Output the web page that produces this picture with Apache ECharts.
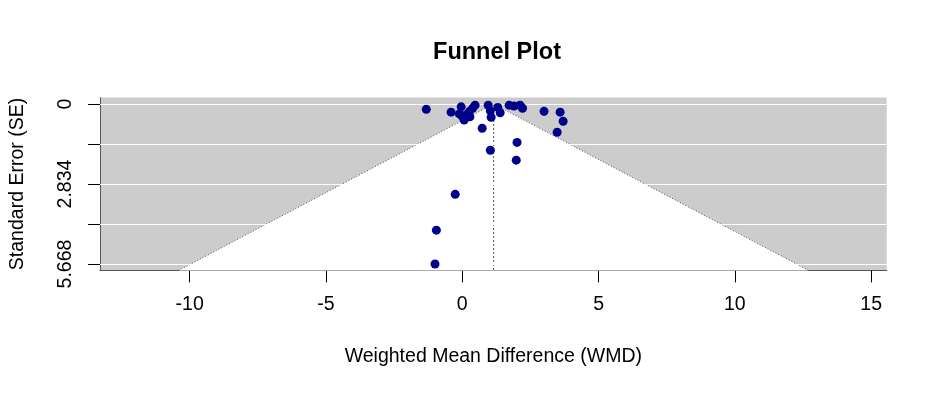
<!DOCTYPE html>
<html>
<head>
<meta charset="utf-8">
<script src="https://cdn.jsdelivr.net/npm/echarts@6/dist/echarts.min.js"></script>
<style>
html,body{margin:0;padding:0;background:#fff;}
#chart{width:937px;height:393px;}
</style>
</head>
<body>
<div id="chart"></div>
<script>
const xTicks = [-10, -5, 0, 5, 10, 15];
const seTicks = [0, 1.417, 2.834, 4.251, 5.668];
const seLabels = [0, 2.834, 5.668];
const estimate = 1.15;
const wmd = [-1.32, -0.41, -0.04, 0.47, 0.38, 0.26, 0.14, 0.01, 0.07, -0.11, 0.28,
  0.95, 1.03, 1.06, 1.30, 1.39, 1.72, 1.90, 2.12, 2.21, 3.00, 3.59, 3.70, 3.48,
  0.73, 2.01, 1.03, 1.98, -0.26, -0.95, -1.00];
const se = [0.19, 0.29, 0.10, 0.04, 0.15, 0.27, 0.39, 0.45, 0.57, 0.35, 0.45,
  0.04, 0.24, 0.47, 0.12, 0.31, 0.04, 0.07, 0.04, 0.15, 0.26, 0.29, 0.61, 1.00,
  0.86, 1.36, 1.64, 1.99, 3.20, 4.47, 5.668];

const seMax = Math.max(...seTicks);
const yMin = -seMax * 0.04, yMax = seMax * 1.04;
const funnel = [[estimate - 1.96 * yMax, yMax], [estimate, 0], [estimate + 1.96 * yMax, yMax]];
const points = wmd.map((v, i) => [v, se[i]]);

const FONT = '"Liberation Sans", Arial, sans-serif';
const chart = echarts.init(document.getElementById('chart'), null, {renderer: 'canvas'});
chart.setOption({
  animation: false,
  title: {
    text: 'Funnel Plot', left: 492, top: 36, textAlign: 'center',
    textStyle: {fontFamily: FONT, fontSize: 23.5, fontWeight: 'bold', color: '#000'}
  },
  grid: {left: 98.3, top: 97.6, width: 788.4, height: 172.8, show: true,
    backgroundColor: '#cccccc', borderWidth: 0},
  xAxis: {
    type: 'value', min: -13.29, max: 15.57,
    name: 'Weighted Mean Difference (WMD)', nameLocation: 'middle', nameGap: 76,
    nameTextStyle: {fontFamily: FONT, fontSize: 19.5, color: '#000'},
    axisLine: {show: true, onZero: false, lineStyle: {color: '#555555', width: 1}},
    axisTick: {show: true, customValues: xTicks, length: 12, lineStyle: {color: '#000'}},
    axisLabel: {customValues: xTicks, margin: 24, fontFamily: FONT, fontSize: 19.5, color: '#000'},
    splitLine: {show: false}
  },
  yAxis: {
    type: 'value', inverse: true, min: yMin, max: yMax,
    name: 'Standard Error (SE)', nameLocation: 'middle', nameGap: 72,
    nameTextStyle: {fontFamily: FONT, fontSize: 19.5, color: '#000'},
    axisLine: {show: true, onZero: false, lineStyle: {color: '#555555', width: 1}},
    axisTick: {show: true, customValues: seTicks, length: 12, lineStyle: {color: '#000'}},
    axisLabel: {customValues: seLabels, rotate: 90, margin: 24, fontFamily: FONT, fontSize: 19.5, color: '#000',
      formatter: v => String(v)},
    splitLine: {show: false}
  },
  series: [
    {
      type: 'line', z: 1, data: [], silent: true,
      markLine: {silent: true, symbol: 'none', label: {show: false}, animation: false,
        lineStyle: {color: '#ffffff', type: 'solid', width: 1.2},
        data: seTicks.map(v => ({yAxis: v}))}
    },
    {
      type: 'line', z: 2, data: funnel, symbol: 'none', silent: true,
      lineStyle: {color: '#555555', width: 1, type: [1, 2]},
      areaStyle: {color: '#ffffff', opacity: 1, origin: 'end'}
    },
    {
      type: 'line', z: 3, data: [[estimate, 0], [estimate, yMax]], symbol: 'none', silent: true,
      lineStyle: {color: '#555555', width: 1, type: [2, 2]}
    },
    {
      type: 'scatter', z: 5, data: points, symbol: 'circle', symbolSize: 9,
      itemStyle: {color: '#00008B', opacity: 1}
    }
  ]
});
</script>
</body>
</html>
